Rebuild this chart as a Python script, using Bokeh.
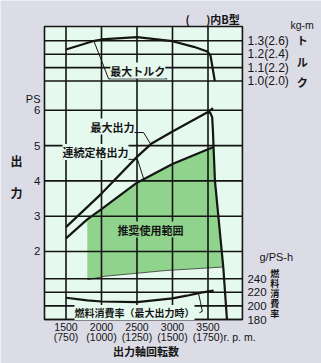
from bokeh.plotting import figure
from bokeh.models import Range1d, Label
from bokeh.core.properties import value
from bokeh.embed import file_html
from bokeh.resources import INLINE

# ---------------- data ----------------
rpm_ticks = [1500, 2000, 2500, 3000, 3500]
rpm_tick_labels = ["1500", "2000", "2500", "3000", "3500"]
rpm_sub_labels = ["(750)", "(1000)", "(1250)", "(1500)", "(1750)"]
ps_ticks = [2, 3, 4, 5, 6]
ps_tick_labels = ["2", "3", "4", "5", "6"]
torque_ticks = [1.0, 1.1, 1.2, 1.3]
torque_tick_labels = ["1.0(2.0)", "1.1(2.2)", "1.2(2.4)", "1.3(2.6)"]
fuel_ticks = [180, 200, 220, 240]
fuel_tick_labels = ["180", "200", "220", "240"]

# max torque (kg-m)
torque_rpm = [1500, 1900, 2000, 2500, 3000, 3300, 3490, 3535, 3596]
torque_kgm = [1.235, 1.30, 1.31, 1.327, 1.297, 1.255, 1.22, 1.19, 1.0]

# max output (PS)
max_rpm = [1500, 2000, 2500, 2700, 3000, 3500, 3570]
max_ps = [2.69, 3.64, 4.68, 5.05, 5.40, 5.95, 6.06]

# governor drop line (PS)
gov_rpm = [3497, 3535, 3559, 3570, 3578, 3598, 3715, 3767]
gov_ps = [5.95, 5.92, 5.80, 5.40, 4.96, 4.00, 1.56, 0.07]

# continuous rated output (PS)
cont_rpm = [1500, 1800, 2000, 2500, 3000, 3578]
cont_ps = [2.37, 2.91, 3.20, 3.95, 4.48, 4.96]

# recommended operating range (PS)
zone_rpm = [1800, 2000, 2500, 3000, 3578, 3598, 3715, 2900, 2056, 1800]
zone_ps = [2.91, 3.20, 3.95, 4.48, 4.96, 4.00, 1.56, 1.46, 1.30, 1.20]

# fuel consumption at max output (g/PS-h)
fuel_rpm = [1500, 1800, 2000, 2500, 3000, 3200, 3400, 3580]
fuel_gps = [212, 208, 206.5, 205.5, 211, 215, 219.5, 222.5]

# ---------------- layout / styling ----------------
X0, X1 = 1197, 3985
PS0, PS1 = 0.0737, 8.374

OUTER = "#dcdce6"
MINT = "#e6f9ee"
GREEN = "#8fd38c"
INK = "#151515"
JP = "Noto Sans CJK JP"
NUM = "Liberation Sans"

p = figure(width=321, height=363, output_backend="svg", toolbar_location=None,
           x_range=Range1d(577.5, 5098.6), y_range=Range1d(-1.173, 9.110),
           x_axis_location=None, y_axis_location=None, min_border=0)
p.extra_y_ranges = {"torque": Range1d(-1.108, 1.6007), "fuel": Range1d(115.3, 649.1)}
p.background_fill_color = OUTER
p.border_fill_color = OUTER
p.outline_line_color = None
p.grid.visible = False

# chart box
p.quad(left=[X0], right=[X1], bottom=[PS0], top=[PS1], fill_color=MINT, line_color=None)

# recommended range
p.patch(zone_rpm, zone_ps, fill_color=GREEN, line_color=None)
p.line(zone_rpm[-4:], zone_ps[-4:], line_color="#333333", line_width=0.8)

# grid lines from tick arrays
GW = 1.6
p.segment(x0=rpm_ticks, x1=rpm_ticks, y0=[PS0] * len(rpm_ticks), y1=[PS1] * len(rpm_ticks),
          line_color=INK, line_width=GW)
p.segment(x0=[X0] * len(ps_ticks), x1=[X1] * len(ps_ticks), y0=ps_ticks, y1=ps_ticks,
          line_color=INK, line_width=GW)
p.segment(x0=[X0] * len(torque_ticks), x1=[X1] * len(torque_ticks), y0=torque_ticks, y1=torque_ticks,
          line_color=INK, line_width=GW, y_range_name="torque")
p.segment(x0=[X0] * len(fuel_ticks), x1=[X1] * len(fuel_ticks), y0=fuel_ticks, y1=fuel_ticks,
          line_color=INK, line_width=GW, y_range_name="fuel")

# curves
CW = 2.2
p.line(torque_rpm, torque_kgm, line_color=INK, line_width=CW, y_range_name="torque")
p.line(max_rpm, max_ps, line_color=INK, line_width=CW)
p.line(gov_rpm, gov_ps, line_color=INK, line_width=CW)
p.line(cont_rpm, cont_ps, line_color=INK, line_width=CW)
p.line(fuel_rpm, fuel_gps, line_color=INK, line_width=CW, y_range_name="fuel")

# leader lines
p.line([1890, 2100, 2925], [1.302, 1.016, 1.016], line_color=INK, line_width=1, y_range_name="torque")
p.line([1845, 2592, 2690], [5.37, 5.37, 5.05], line_color=INK, line_width=1)
p.line([1451, 2507, 2600], [4.61, 4.61, 4.02], line_color=INK, line_width=1)
p.line([3366, 3395, 3420, 3380], [218.5, 205, 192, 190], line_color=INK, line_width=1, y_range_name="fuel")

# box outline
p.quad(left=[X0], right=[X1], bottom=[PS0], top=[PS1], fill_color=None, line_color=INK, line_width=1.6)

# tick labels
TXT = dict(text_color=INK, text_baseline="middle")
p.text(x=[1141] * len(ps_ticks), y=ps_ticks, text=ps_tick_labels, text_align="right",
       text_font=value(NUM), text_font_size=value("11.5px"), **TXT)
p.text(x=rpm_ticks, y=[-0.153] * len(rpm_ticks), text=rpm_tick_labels, text_align="center",
       text_font=value(NUM), text_font_size=value("10.5px"), **TXT)
p.text(x=rpm_ticks, y=[-0.436] * len(rpm_ticks), text=rpm_sub_labels, text_align="center",
       text_font=value(NUM), text_font_size=value("10.5px"), **TXT)
p.text(x=[4056] * len(torque_ticks), y=torque_ticks, text=torque_tick_labels, text_align="left",
       text_font=value(NUM), text_font_size=value("12px"), y_range_name="torque", **TXT)
p.text(x=[4056] * len(fuel_ticks), y=fuel_ticks, text=fuel_tick_labels, text_align="left",
       text_font=value(NUM), text_font_size=value("11.5px"), y_range_name="fuel", **TXT)


def lab(x, y, t, size="11px", font=JP, bold=True, align="left", rng="default", bg=None):
    kw = dict(x=x, y=y, text=t, text_font=font, text_font_size=size, text_align=align,
              text_baseline="middle", text_color=INK, y_range_name=rng,
              text_font_style="bold" if bold else "normal")
    if bg is not None:
        kw["background_fill_color"] = bg
    p.add_layout(Label(**kw))


# outer texts
lab(2627, -0.805, "出力軸回転数", size="11px", align="center")
lab(3718, -0.436, "r. p. m.", size="10.5px", font=NUM, bold=False)
lab(1141, 6.31, "PS", size="11px", font=NUM, bold=False, align="right")
lab(803, 4.58, "出", size="12px", align="center")
lab(803, 3.67, "力", size="12px", align="center")
lab(3183, 8.60, "(\u3000\u2002)内B型", size="11px")
lab(4662, 8.43, "kg-m", size="10.5px", font=NUM, bold=False)
for ch, yy in zip(["ト", "ル", "ク"], [7.98, 7.36, 6.80]):
    lab(4826, yy, ch, size="11px", align="center")
lab(4225, 1.84, "g/PS-h", size="11px", font=NUM, bold=False)
for ch, yy in zip(["燃", "料", "消", "費", "率"], [1.39, 1.10, 0.82, 0.53, 0.24]):
    lab(4441, yy, ch, size="9px", align="center")

# in-chart labels
lab(2124, 1.078, "最大トルク", rng="torque", bg=MINT)
lab(1845, 5.54, "最大出力", bg=MINT)
lab(1451, 4.82, "連続定格出力", bg=MINT)
lab(2225, 2.62, "推奨使用範囲", bg=GREEN)
lab(1620, 190.3, "燃料消費率（最大出力時）", size="10px", rng="fuel", bg=MINT)

open("out.html", "w").write(file_html(p, INLINE))
